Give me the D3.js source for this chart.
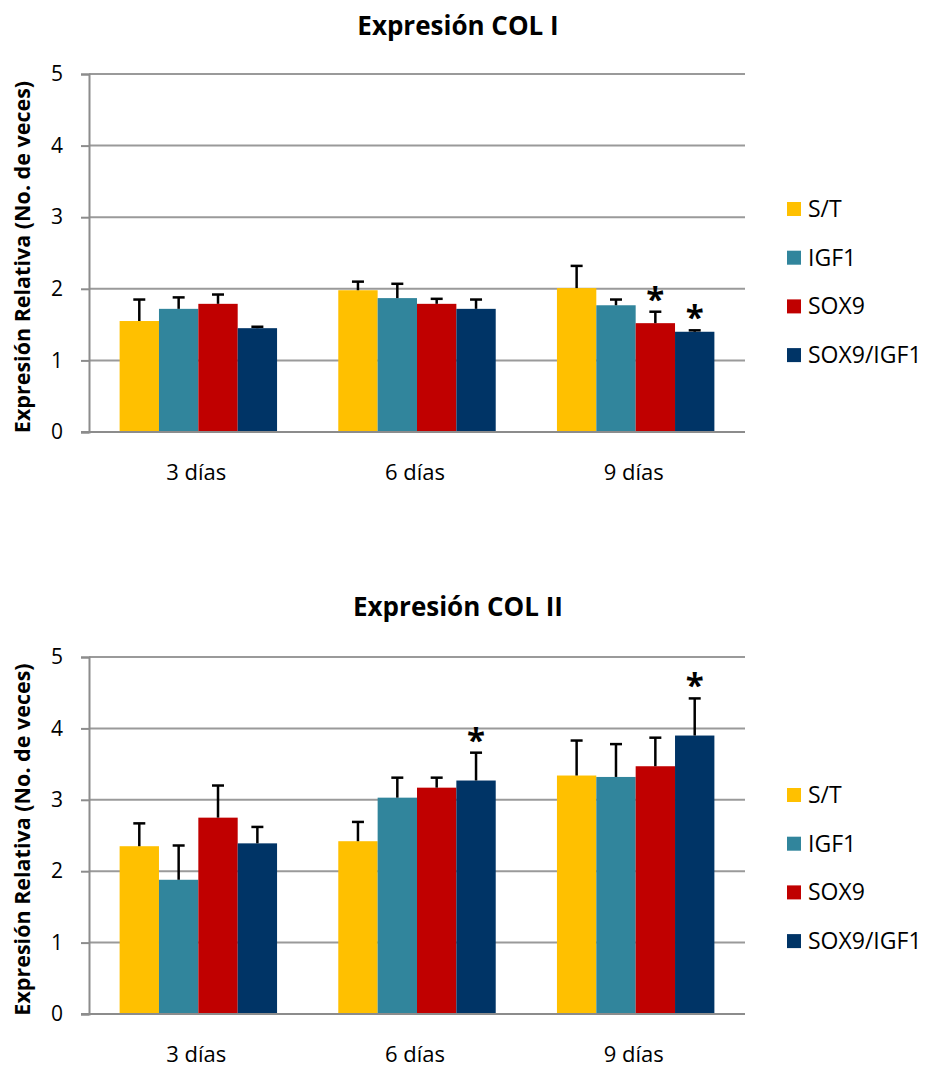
<!DOCTYPE html>
<html><head><meta charset="utf-8">
<script src="https://cdn.jsdelivr.net/npm/d3@7"></script>
<style>body{margin:0;background:#fff}svg{display:block;font-family:"Open Sans",sans-serif}</style>
</head><body><svg id="c" width="927" height="1067"></svg>
<script>
const categories = ["3 días", "6 días", "9 días"];
const seriesNames = ["S/T", "IGF1", "SOX9", "SOX9/IGF1"];
const seriesColors = ["#FFC000", "#31859C", "#C00000", "#003466"];
const yTicks = [0, 1, 2, 3, 4, 5];

// COL I
const col1ST = [1.55, 1.98, 2.01];
const col1IGF1 = [1.72, 1.87, 1.77];
const col1SOX9 = [1.79, 1.79, 1.52];
const col1SOX9IGF1 = [1.45, 1.72, 1.40];
const col1ErrST = [0.30, 0.12, 0.31];
const col1ErrIGF1 = [0.16, 0.20, 0.08];
const col1ErrSOX9 = [0.13, 0.07, 0.16];
const col1ErrSOX9IGF1 = [0.02, 0.13, 0.02];
const col1Signif = [[], [], ["SOX9", "SOX9/IGF1"]];

// COL II
const col2ST = [2.35, 2.42, 3.34];
const col2IGF1 = [1.88, 3.03, 3.32];
const col2SOX9 = [2.75, 3.17, 3.47];
const col2SOX9IGF1 = [2.39, 3.27, 3.90];
const col2ErrST = [0.32, 0.27, 0.49];
const col2ErrIGF1 = [0.48, 0.28, 0.46];
const col2ErrSOX9 = [0.45, 0.14, 0.40];
const col2ErrSOX9IGF1 = [0.23, 0.39, 0.52];
const col2Signif = [[], ["SOX9/IGF1"], ["SOX9/IGF1"]];

const svg = d3.select("#c");

function drawChart(opts) {
  const {title, titleY, top, bottom, vals, errs, signif, legendY} = opts;
  const left = 89, right = 745;
  const g = svg.append("g");
  const y = d3.scaleLinear().domain([0, 5]).range([bottom, top]);
  const x0 = d3.scaleBand().domain(categories).range([left, right]).padding(0);
  const groupW = x0.bandwidth() * 0.72;
  const x1 = d3.scaleBand().domain(seriesNames).range([0, groupW]).padding(0);
  const off = (x0.bandwidth() - groupW) / 2;

  // title
  g.append("text").attr("x", 458).attr("y", titleY).attr("text-anchor", "middle")
    .attr("font-weight", "bold").attr("font-size", 26).attr("fill", "#000").text(title);

  // gridlines
  g.selectAll(".grid").data(yTicks.filter(t => t > 0)).join("line")
    .attr("x1", left).attr("x2", right)
    .attr("y1", d => y(d)).attr("y2", d => y(d))
    .attr("stroke", "#9a9a9a").attr("stroke-width", 2);

  // y axis
  const ax = g.append("g").attr("transform", `translate(${left},0)`)
    .call(d3.axisLeft(y).tickValues(yTicks).tickSize(8).tickPadding(18).tickFormat(d3.format("d")));
  ax.select(".domain").attr("stroke", "#8c8c8c").attr("stroke-width", 2);
  ax.selectAll(".tick line").attr("stroke", "#8c8c8c").attr("stroke-width", 2);
  ax.selectAll(".tick text").attr("font-size", 21).attr("fill", "#000").attr("font-family", "'Open Sans',sans-serif");

  // bars
  const rows = [];
  categories.forEach((c, i) => {
    seriesNames.forEach((s, j) => {
      rows.push({c, s, j, v: vals[j][i], e: errs[j][i], sig: signif[i].includes(s)});
    });
  });
  g.selectAll(".bar").data(rows).join("rect")
    .attr("x", d => x0(d.c) + off + x1(d.s))
    .attr("width", x1.bandwidth())
    .attr("y", d => y(d.v))
    .attr("height", d => y(0) - y(d.v))
    .attr("fill", d => seriesColors[d.j]);

  // error bars
  const cx = d => x0(d.c) + off + x1(d.s) + x1.bandwidth() / 2;
  g.selectAll(".err").data(rows).join("line")
    .attr("x1", cx).attr("x2", cx)
    .attr("y1", d => y(d.v)).attr("y2", d => y(d.v + d.e))
    .attr("stroke", "#000").attr("stroke-width", 2.5);
  g.selectAll(".cap").data(rows).join("line")
    .attr("x1", d => cx(d) - 6).attr("x2", d => cx(d) + 6)
    .attr("y1", d => y(d.v + d.e)).attr("y2", d => y(d.v + d.e))
    .attr("stroke", "#000").attr("stroke-width", 2.5);

  // significance
  g.selectAll(".sig").data(rows.filter(d => d.sig)).join("text")
    .attr("x", cx).attr("y", d => y(d.v + d.e) - 1)
    .attr("text-anchor", "middle").attr("font-size", 33).attr("font-weight", "bold")
    .attr("fill", "#000").text("*");

  // baseline axis
  g.append("line").attr("x1", left - 8).attr("x2", right)
    .attr("y1", y(0)).attr("y2", y(0)).attr("stroke", "#8c8c8c").attr("stroke-width", 2);

  // x labels
  g.selectAll(".xl").data(categories).join("text")
    .attr("x", d => x0(d) + x0.bandwidth() / 2 - 2).attr("y", bottom + 48)
    .attr("text-anchor", "middle").attr("font-size", 22).attr("fill", "#000").text(d => d);

  // y title
  g.append("text").attr("transform", `translate(30,${(top + bottom) / 2 + 4}) rotate(-90)`)
    .attr("text-anchor", "middle").attr("font-size", 21.5).attr("font-weight", "bold")
    .attr("fill", "#000").text("Expresión Relativa (No. de veces)");

  // legend
  const lg = g.selectAll(".lg").data(seriesNames).join("g")
    .attr("transform", (d, i) => `translate(787,${legendY + i * 48.7})`);
  lg.append("rect").attr("x", 0).attr("y", -7).attr("width", 14).attr("height", 14)
    .attr("fill", (d, i) => seriesColors[i]);
  lg.append("text").attr("x", 21).attr("y", 8).attr("font-size", 23).attr("fill", "#000").text(d => d);
}

drawChart({
  title: "Expresión COL I", titleY: 35, top: 74, bottom: 432,
  vals: [col1ST, col1IGF1, col1SOX9, col1SOX9IGF1],
  errs: [col1ErrST, col1ErrIGF1, col1ErrSOX9, col1ErrSOX9IGF1],
  signif: col1Signif, legendY: 209
});
drawChart({
  title: "Expresión COL II", titleY: 616, top: 657, bottom: 1014,
  vals: [col2ST, col2IGF1, col2SOX9, col2SOX9IGF1],
  errs: [col2ErrST, col2ErrIGF1, col2ErrSOX9, col2ErrSOX9IGF1],
  signif: col2Signif, legendY: 795
});
</script></body></html>
